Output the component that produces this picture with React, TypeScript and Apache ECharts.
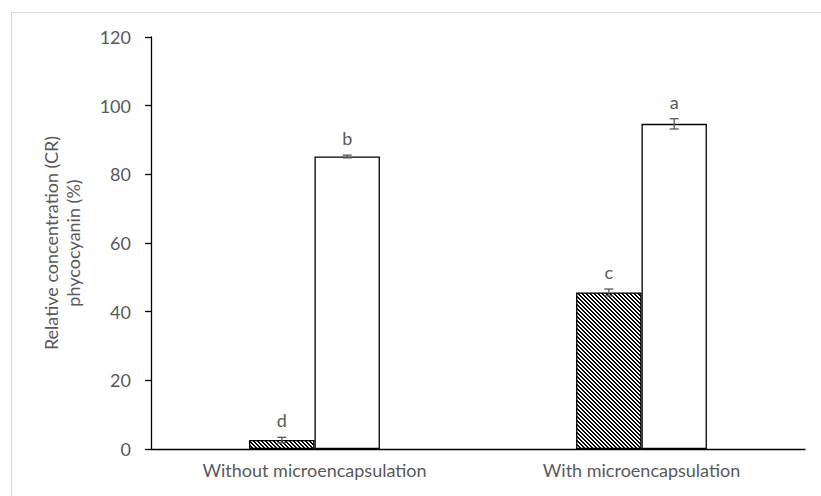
import React, { useEffect, useRef } from 'react';
import * as echarts from 'echarts';

const categories = ['Without microencapsulation', 'With microencapsulation'];
const hatchedValues = [2.6, 45.6];
const hatchedErrors = [0.8, 1.0];
const hatchedLetters = ['d', 'c'];
const whiteValues = [85.2, 94.7];
const whiteErrors = [0.4, 1.5];
const whiteLetters = ['b', 'a'];
const yMin = 0;
const yMax = 120;
const yInterval = 20;
const yAxisTitle = 'Relative concentration (CR)\nphycocyanin (%)';

const FONT = 'Lato';
const FS = 18;
const TEXT_COLOR = '#595959';

function makeHatch(): HTMLCanvasElement {
  const c = document.createElement('canvas');
  c.width = 4;
  c.height = 4;
  const ctx = c.getContext('2d')!;
  ctx.fillStyle = '#ffffff';
  ctx.fillRect(0, 0, 4, 4);
  ctx.fillStyle = '#000000';
  for (let i = 0; i < 4; i++) {
    ctx.fillRect(i, i, 1, 1);
    ctx.fillRect((i + 1) % 4, i, 1, 1);
  }
  return c;
}

function errorSeries(values: number[], errors: number[], letters: string[], sign: number) {
  return {
    type: 'custom',
    z: 10,
    data: values.map((v, i) => [i, v, errors[i]]),
    encode: { x: 0, y: 1 },
    renderItem: (params: any, api: any) => {
      const idx = api.value(0);
      const val = api.value(1);
      const err = api.value(2);
      const band = api.size([1, 0])[0];
      const off = (sign * band * 0.2) / 2;
      const top = api.coord([idx, val + err]);
      const bot = api.coord([idx, val - err]);
      const x = top[0] + off;
      const cap = 4.5;
      const ls = { stroke: '#595959', lineWidth: 1.3 };
      return {
        type: 'group',
        children: [
          { type: 'line', shape: { x1: x, y1: top[1], x2: x, y2: bot[1] }, style: ls },
          { type: 'line', shape: { x1: x - cap, y1: top[1], x2: x + cap, y2: top[1] }, style: ls },
          { type: 'line', shape: { x1: x - cap, y1: bot[1], x2: x + cap, y2: bot[1] }, style: ls },
          {
            type: 'text',
            x: x,
            y: top[1] - 8,
            style: {
              text: letters[params.dataIndex],
              fill: TEXT_COLOR,
              font: `${FS}px ${FONT}`,
              align: 'center',
              verticalAlign: 'bottom',
            },
          },
        ],
      };
    },
  };
}

export default function App() {
  const ref = useRef<HTMLDivElement>(null);
  useEffect(() => {
    if (!ref.current) return;
    const chart = echarts.init(ref.current, null, { renderer: 'svg' });
    const hatch = makeHatch();
    chart.setOption({
      animation: false,
      backgroundColor: '#ffffff',
      graphic: [
        {
          type: 'rect',
          left: 9,
          top: 10,
          shape: { x: 0.5, y: 0.5, width: 840, height: 520 },
          style: { fill: 'none', stroke: '#d9d9d9', lineWidth: 1 },
          silent: true,
        },
      ],
      grid: { left: 151, right: 16, top: 37, bottom: 47 },
      xAxis: {
        type: 'category',
        data: categories,
        axisLine: { lineStyle: { color: '#000', width: 1.3 } },
        axisTick: { show: false },
        axisLabel: { color: TEXT_COLOR, fontFamily: FONT, fontSize: FS, margin: 12 },
      },
      yAxis: {
        type: 'value',
        min: yMin,
        max: yMax,
        interval: yInterval,
        name: yAxisTitle,
        nameLocation: 'middle',
        nameRotate: 90,
        nameGap: 67,
        nameTextStyle: { color: TEXT_COLOR, fontFamily: FONT, fontSize: FS, lineHeight: 22 },
        axisLine: { show: true, lineStyle: { color: '#000', width: 1.3 } },
        axisTick: { show: true, length: 6, lineStyle: { color: '#000', width: 1.3 } },
        splitLine: { show: false },
        axisLabel: { color: TEXT_COLOR, fontFamily: FONT, fontSize: FS, margin: 20 },
      },
      series: [
        {
          type: 'bar',
          data: hatchedValues,
          barWidth: '20%',
          barGap: '0%',
          itemStyle: {
            color: { image: hatch, repeat: 'repeat', imageWidth: 4, imageHeight: 4 },
            borderColor: '#000',
            borderWidth: 1.3,
          },
        },
        {
          type: 'bar',
          data: whiteValues,
          barWidth: '20%',
          barGap: '0%',
          itemStyle: { color: '#ffffff', borderColor: '#000', borderWidth: 1.3 },
        },
        errorSeries(hatchedValues, hatchedErrors, hatchedLetters, -1),
        errorSeries(whiteValues, whiteErrors, whiteLetters, 1),
      ],
    });
    return () => chart.dispose();
  }, []);
  return (
    <div
      ref={ref}
      style={{ position: 'absolute', left: 0, top: 0, width: 821, height: 496 }}
    />
  );
}
